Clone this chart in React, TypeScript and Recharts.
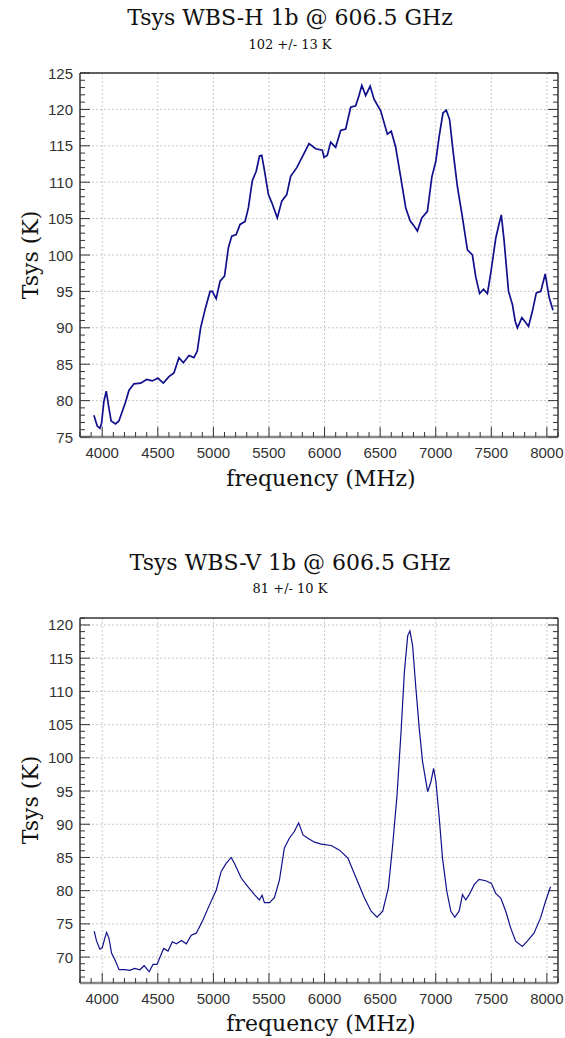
import React from 'react';
import { LineChart, Line, XAxis, YAxis, CartesianGrid } from 'recharts';

// WBS-H 1b, frequency (MHz) and Tsys (K)
const freqH = [
  3925, 3955, 3980, 3994, 4015, 4036, 4060, 4080, 4120, 4150, 4180, 4210, 4240, 4285, 4345,
  4400, 4450, 4500, 4550, 4600, 4645, 4690, 4730, 4780, 4825, 4855, 4885, 4930, 4970, 4990,
  5025, 5060, 5100, 5135, 5165, 5205, 5240, 5285, 5315, 5350, 5385, 5415, 5435, 5455, 5495,
  5525, 5575, 5615, 5660, 5695, 5750, 5810, 5860, 5920, 5980, 5995, 6025, 6055, 6100, 6145,
  6190, 6235, 6280, 6310, 6335, 6370, 6410, 6445, 6505, 6565, 6600, 6640, 6685, 6730, 6770,
  6805, 6835, 6875, 6925, 6965, 7000, 7030, 7065, 7095, 7125, 7155, 7195, 7240, 7285, 7330,
  7360, 7395, 7430, 7465, 7495, 7540, 7570, 7590, 7615, 7655, 7690, 7715, 7735, 7775, 7835,
  7870, 7905, 7945, 7985, 8020, 8055,
];
const tsysH = [
  78.0, 76.5, 76.2, 76.9, 79.9, 81.3, 79.0, 77.2, 76.8, 77.2, 78.5, 79.8, 81.4, 82.3, 82.4,
  82.9, 82.7, 83.1, 82.4, 83.3, 83.8, 85.9, 85.2, 86.2, 85.9, 86.8, 90.0, 92.8, 95.0, 95.0,
  94.0, 96.4, 97.1, 101.0, 102.6, 102.8, 104.2, 104.6, 106.5, 110.2, 111.5, 113.6, 113.7, 112.0, 108.3,
  107.2, 105.1, 107.4, 108.3, 110.8, 112.0, 113.8, 115.3, 114.6, 114.4, 113.4, 113.7, 115.5, 114.8, 117.1,
  117.3, 120.3, 120.5, 121.9, 123.3, 121.9, 123.2, 121.4, 119.8, 116.6, 117.0, 114.8, 110.7, 106.5, 104.7,
  104.0, 103.3, 105.1, 106.0, 110.7, 112.8, 116.2, 119.5, 119.9, 118.6, 114.4, 109.4, 105.2, 100.7, 100.0,
  97.0, 94.7, 95.3, 94.7, 97.5, 102.3, 104.3, 105.5, 102.0, 95.0, 93.2, 90.9, 90.0, 91.4, 90.2,
  92.3, 94.8, 95.0, 97.4, 94.2, 92.4,
];

// WBS-V 1b
const freqV = [
  3928, 3949, 3979, 4000, 4024, 4039, 4060, 4084, 4114, 4152, 4203, 4248, 4293, 4338, 4377,
  4422, 4457, 4493, 4517, 4553, 4592, 4631, 4667, 4712, 4757, 4801, 4846, 4906, 4966, 5026,
  5070, 5115, 5160, 5190, 5250, 5310, 5369, 5414, 5438, 5459, 5504, 5549, 5594, 5638, 5683,
  5728, 5767, 5806, 5850, 5910, 5970, 6060, 6135, 6210, 6284, 6359, 6419, 6472, 6523, 6574,
  6613, 6652, 6688, 6718, 6748, 6768, 6792, 6822, 6852, 6882, 6927, 6957, 6981, 7002, 7032,
  7061, 7100, 7136, 7172, 7211, 7241, 7271, 7301, 7346, 7390, 7450, 7501, 7540, 7585, 7630,
  7674, 7719, 7779, 7824, 7884, 7943, 7988, 8033,
];
const tsysV = [
  73.9, 72.4, 71.2, 71.4, 72.9, 73.7, 72.9, 70.6, 69.6, 68.1, 68.1, 68.0, 68.3, 68.1, 68.7,
  67.8, 68.9, 68.9, 69.9, 71.3, 70.9, 72.3, 72.0, 72.5, 72.0, 73.3, 73.6, 75.6, 77.9, 80.1,
  82.9, 84.1, 85.0, 84.1, 81.9, 80.6, 79.4, 78.6, 79.3, 78.2, 78.2, 78.95, 81.6, 86.4, 87.9,
  88.9, 90.2, 88.4, 87.9, 87.3, 87.0, 86.8, 86.1, 84.9, 81.9, 78.9, 76.9, 76.0, 76.9, 80.4,
  86.9, 94.4, 103.9, 112.9, 118.4, 119.1, 116.9, 110.4, 104.4, 99.4, 94.9, 96.4, 98.4, 96.4, 90.9,
  84.9, 79.9, 76.9, 76.0, 76.95, 79.4, 78.6, 79.4, 80.9, 81.7, 81.5, 81.1, 79.6, 78.9, 76.9,
  74.4, 72.4, 71.6, 72.4, 73.6, 75.9, 78.4, 80.6,
];

const xMajor = [4000, 4500, 5000, 5500, 6000, 6500, 7000, 7500, 8000];
const yMajorH = [75, 80, 85, 90, 95, 100, 105, 110, 115, 120, 125];
const yMajorV = [70, 75, 80, 85, 90, 95, 100, 105, 110, 115, 120];

const X_DOMAIN: [number, number] = [3800, 8100];
const LINE_COLOR = '#10108c';
const TICK_COLOR = '#333';
const LABEL_FONT = '"Liberation Sans", Arial, sans-serif';
const SERIF = '"DejaVu Serif", serif';

// minor tick positions (every step between lo and hi)
const steps = (lo: number, hi: number, step: number) => {
  const out: number[] = [];
  for (let v = lo; v <= hi + 1e-9; v += step) out.push(Math.round(v));
  return out;
};
const xMinor = steps(3800, 8100, 100);

type Side = 'bottom' | 'top' | 'left' | 'right';

const makeTick = (side: Side, majors: number[], labels: boolean) => (props: any) => {
  const { x, y, payload } = props;
  const v = payload.value;
  const major = majors.includes(v);
  const len = major ? 10 : 5;
  let line = null;
  let label = null;
  if (side === 'bottom') {
    line = <line x1={x} x2={x} y1={y} y2={y - len} stroke={TICK_COLOR} />;
    if (labels && major)
      label = (
        <text x={x} y={y + 21} textAnchor="middle" fontFamily={LABEL_FONT} fontSize={15} fill={TICK_COLOR}>
          {v}
        </text>
      );
  } else if (side === 'top') {
    line = <line x1={x} x2={x} y1={y} y2={y + len} stroke={TICK_COLOR} />;
  } else if (side === 'left') {
    line = <line x1={x} x2={x + len} y1={y} y2={y} stroke={TICK_COLOR} />;
    if (labels && major)
      label = (
        <text x={x - 7} y={y + 5.5} textAnchor="end" fontFamily={LABEL_FONT} fontSize={15} fill={TICK_COLOR}>
          {v}
        </text>
      );
  } else {
    line = <line x1={x} x2={x - len} y1={y} y2={y} stroke={TICK_COLOR} />;
  }
  return (
    <g>
      {line}
      {label}
    </g>
  );
};

type PanelProps = {
  top: number;
  height: number;
  freq: number[];
  tsys: number[];
  yDomain: [number, number];
  yMajor: number[];
  strokeWidth: number;
  margin: { top: number; right: number; bottom: number; left: number };
};

// axes are 1px thick so that tick x/y land on the frame of the plot
const Panel = ({ top, height, freq, tsys, yDomain, yMajor, strokeWidth, margin }: PanelProps) => {
  const data = freq.map((f, i) => ({ f, t: tsys[i] }));
  const yMinor = steps(Math.ceil(yDomain[0]), Math.floor(yDomain[1]), 1);
  return (
    <div style={{ position: 'absolute', left: 0, top }}>
      <LineChart width={565} height={height} data={data} margin={margin}>
        <CartesianGrid
          xAxisId="b"
          yAxisId="l"
          verticalValues={xMajor}
          horizontalValues={yMajor}
          stroke="#c8c8c8"
          strokeDasharray="2 2"
        />
        <XAxis
          xAxisId="b"
          dataKey="f"
          type="number"
          domain={X_DOMAIN}
          allowDataOverflow
          ticks={xMinor}
          interval={0}
          height={1}
          tickSize={0}
          tickMargin={0}
          tickLine={false}
          axisLine={{ stroke: '#888', strokeWidth: 2.5 }}
          tick={makeTick('bottom', xMajor, true)}
        />
        <XAxis
          xAxisId="t"
          orientation="top"
          type="number"
          domain={X_DOMAIN}
          allowDataOverflow
          ticks={xMinor}
          interval={0}
          height={1}
          tickSize={0}
          tickMargin={0}
          tickLine={false}
          axisLine={{ stroke: '#333', strokeWidth: 1.5 }}
          tick={makeTick('top', xMajor, false)}
        />
        <YAxis
          yAxisId="l"
          type="number"
          domain={yDomain}
          allowDataOverflow
          ticks={yMinor}
          interval={0}
          width={1}
          tickSize={0}
          tickMargin={0}
          tickLine={false}
          axisLine={{ stroke: '#333', strokeWidth: 1.5 }}
          tick={makeTick('left', yMajor, true)}
        />
        <YAxis
          yAxisId="r"
          orientation="right"
          type="number"
          domain={yDomain}
          allowDataOverflow
          ticks={yMinor}
          interval={0}
          width={1}
          tickSize={0}
          tickMargin={0}
          tickLine={false}
          axisLine={{ stroke: '#333', strokeWidth: 1.5 }}
          tick={makeTick('right', yMajor, false)}
        />
        <Line
          xAxisId="b"
          yAxisId="l"
          type="linear"
          dataKey="t"
          stroke={LINE_COLOR}
          strokeWidth={strokeWidth}
          dot={false}
          activeDot={false}
          isAnimationActive={false}
        />
      </LineChart>
    </div>
  );
};

const Texts = () => (
  <svg width={565} height={1038} style={{ position: 'absolute', left: 0, top: 0 }}>
    <g fontFamily={SERIF} fill="#111" textAnchor="middle">
      <text x={290} y={25} fontSize={22}>Tsys WBS-H 1b @ 606.5 GHz</text>
      <text x={290} y={49} fontSize={13}>102 +/- 13 K</text>
      <text transform="translate(30,255) rotate(-90)" dominantBaseline="central" fontSize={22}>
        Tsys (K)
      </text>
      <text x={321} y={486} fontSize={22}>frequency (MHz)</text>

      <text x={290} y={570} fontSize={22}>Tsys WBS-V 1b @ 606.5 GHz</text>
      <text x={290} y={593} fontSize={13}>81 +/- 10 K</text>
      <text transform="translate(30,800) rotate(-90)" dominantBaseline="central" fontSize={22}>
        Tsys (K)
      </text>
      <text x={321} y={1031} fontSize={22}>frequency (MHz)</text>
    </g>
  </svg>
);

export default function App() {
  return (
    <div
      style={{
        position: 'absolute',
        left: 0,
        top: 0,
        width: 565,
        height: 1038,
        overflow: 'hidden',
        background: '#fff',
      }}
    >
      <Texts />
      <Panel
        top={0}
        height={500}
        freq={freqH}
        tsys={tsysH}
        yDomain={[75, 125]}
        yMajor={yMajorH}
        strokeWidth={1.7}
        margin={{ top: 72, right: 6, bottom: 62, left: 79 }}
      />
      <Panel
        top={545}
        height={480}
        freq={freqV}
        tsys={tsysV}
        yDomain={[66.1, 121.05]}
        yMajor={yMajorV}
        strokeWidth={1.2}
        margin={{ top: 72, right: 6, bottom: 41, left: 79 }}
      />
    </div>
  );
}
